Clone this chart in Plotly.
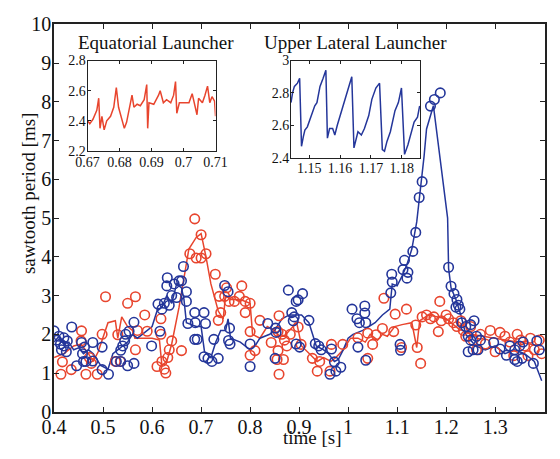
import plotly.graph_objects as go

# ---------------- data ----------------
# Equatorial launcher (red) sawtooth period samples
eq_t = [0.414, 0.417, 0.435, 0.456, 0.455, 0.465, 0.472, 0.476, 0.488, 0.498, 0.505, 0.525,
        0.530, 0.535, 0.550, 0.566, 0.566, 0.570, 0.585, 0.590, 0.618, 0.618, 0.610, 0.620,
        0.625, 0.628, 0.632, 0.635, 0.640, 0.660, 0.677, 0.687, 0.700, 0.690, 0.700, 0.710,
        0.729, 0.735, 0.740, 0.737, 0.748, 0.752, 0.757, 0.768, 0.778, 0.783, 0.790, 0.800,
        0.790, 0.800, 0.820, 0.800, 0.810, 0.843, 0.859, 0.857, 0.865, 0.870, 0.875, 0.857,
        0.855, 0.868, 0.859, 0.882, 0.898, 0.904, 0.927, 0.937, 0.942, 0.966, 0.963, 0.989,
        1.020, 1.040, 1.050, 1.040, 1.057, 1.070, 1.073, 1.096, 1.119, 1.093, 1.109, 1.138,
        1.148, 1.141, 1.187, 1.151, 1.160, 1.168, 1.175, 1.184, 1.190, 1.200, 1.205, 1.215,
        1.222, 1.230, 1.235, 1.240, 1.250, 1.255, 1.262, 1.270, 1.280, 1.290, 1.300, 1.310,
        1.320, 1.330, 1.338, 1.345, 1.352, 1.360, 1.367, 1.372, 1.380, 1.390, 1.395]
eq_v = [0.97, 1.29, 1.09, 2.09, 1.83, 0.97, 1.40, 1.25, 0.97, 2.00, 2.97, 1.30,
        1.99, 1.30, 2.80, 2.97, 1.60, 2.10, 2.50, 2.08, 2.00, 2.40, 1.17, 1.30,
        1.10, 1.00, 1.40, 1.60, 1.83, 1.58, 4.08, 4.98, 4.57, 3.97, 3.97, 4.08,
        3.55, 2.36, 2.56, 2.98, 2.98, 3.20, 2.85, 2.85, 2.98, 3.25, 2.85, 2.80,
        2.56, 2.07, 2.36, 1.46, 1.58, 1.79, 2.48, 2.07, 2.00, 1.85, 1.70, 1.58,
        1.35, 1.35, 0.97, 2.00, 2.19, 1.74, 1.38, 1.05, 1.30, 1.74, 1.05, 1.74,
        1.91, 2.03, 1.74, 1.38, 1.99, 2.15, 2.93, 2.52, 2.65, 2.07, 1.66, 2.24,
        1.25, 1.66, 2.85, 2.45, 2.50, 2.40, 2.45, 2.07, 2.35, 2.50, 2.40, 2.30,
        2.20, 2.35, 2.10, 1.95, 2.20, 1.85, 1.60, 2.00, 1.75, 2.10, 1.55, 2.05,
        1.95, 1.80, 1.45, 2.00, 1.85, 1.70, 1.45, 1.90, 1.60, 1.85, 1.50]

# Equatorial launcher smoothed trace
eq_line_t = [0.400, 0.420, 0.440, 0.455, 0.470, 0.480, 0.490, 0.500, 0.510, 0.525, 0.530, 0.538,
             0.550, 0.560, 0.565, 0.580, 0.600, 0.615, 0.620, 0.630, 0.640, 0.655, 0.665, 0.675,
             0.690, 0.700, 0.710, 0.720, 0.735, 0.745, 0.750, 0.760, 0.780, 0.800, 0.805, 0.820,
             0.835, 0.850, 0.860, 0.870, 0.880, 0.895, 0.905, 0.920, 0.937, 0.950, 0.965, 0.975,
             0.990, 1.005, 1.020, 1.035, 1.045, 1.060, 1.070, 1.080, 1.095, 1.110, 1.130, 1.140,
             1.146, 1.164, 1.180, 1.200, 1.225, 1.250, 1.275, 1.300, 1.325, 1.350, 1.375, 1.395]
eq_line_v = [1.40, 1.50, 1.70, 1.75, 1.50, 1.30, 1.55, 1.90, 2.30, 2.35, 1.90, 2.45,
             2.20, 2.10, 1.90, 1.90, 1.90, 1.85, 1.20, 1.30, 1.75, 2.70, 3.50, 4.20,
             4.50, 4.60, 4.00, 3.30, 2.60, 2.40, 3.00, 2.90, 2.90, 2.80, 2.00, 1.90,
             2.20, 2.10, 1.95, 1.95, 2.10, 2.30, 1.70, 1.50, 1.30, 1.40, 1.30, 1.40,
             1.60, 1.90, 1.90, 1.80, 2.00, 1.85, 2.00, 1.95, 2.20, 2.25, 2.30, 1.66,
             2.35, 2.50, 2.45, 2.40, 2.15, 2.00, 1.95, 1.90, 1.85, 1.80, 1.75, 1.70]

# Upper lateral launcher (blue) sawtooth period samples
ul_t = [0.400, 0.405, 0.410, 0.413, 0.415, 0.420, 0.420, 0.425, 0.427, 0.436, 0.446, 0.456,
        0.462, 0.458, 0.460, 0.465, 0.479, 0.479, 0.498, 0.498, 0.511, 0.527, 0.536, 0.536,
        0.540, 0.544, 0.546, 0.553, 0.563, 0.550, 0.563, 0.599, 0.612, 0.616, 0.620, 0.625,
        0.630, 0.631, 0.635, 0.640, 0.645, 0.655, 0.660, 0.664, 0.650, 0.670, 0.670, 0.673,
        0.687, 0.688, 0.706, 0.709, 0.687, 0.692, 0.706, 0.722, 0.735, 0.714, 0.726, 0.748,
        0.755, 0.758, 0.756, 0.759, 0.800, 0.800, 0.836, 0.852, 0.853, 0.851, 0.878, 0.894,
        0.885, 0.894, 0.898, 0.907, 0.888, 0.890, 0.920, 0.933, 0.940, 0.945, 0.901, 0.966,
        0.972, 0.963, 0.975, 0.985, 1.008, 1.018, 1.023, 1.034, 1.034, 1.036, 1.020, 1.036,
        1.089, 1.090, 1.087, 1.106, 1.107, 1.112, 1.115, 1.120, 1.122, 1.132, 1.138, 1.145,
        1.151, 1.168, 1.176, 1.188, 1.205, 1.210, 1.216, 1.222, 1.225, 1.228, 1.220, 1.232,
        1.240, 1.250, 1.257, 1.245, 1.250, 1.262, 1.270, 1.245, 1.255, 1.265, 1.297, 1.310,
        1.323, 1.330, 1.340, 1.350, 1.357, 1.340, 1.345, 1.355, 1.378, 1.385, 1.390]
ul_v = [2.09, 1.85, 1.95, 1.75, 1.60, 1.91, 1.70, 1.55, 1.83, 2.19, 1.19, 1.79,
        1.67, 1.50, 1.30, 1.30, 1.79, 1.31, 1.67, 1.09, 0.97, 1.30, 1.30, 1.59,
        1.70, 1.83, 2.00, 2.08, 2.31, 1.19, 1.25, 1.70, 2.78, 2.08, 2.65, 2.80,
        3.25, 3.46, 2.75, 3.00, 3.30, 3.38, 3.38, 3.75, 2.95, 3.10, 2.85, 2.28,
        2.56, 2.30, 2.56, 2.28, 1.87, 1.87, 1.42, 1.30, 1.38, 1.38, 1.87, 3.26,
        3.10, 2.16, 1.84, 1.75, 1.75, 1.17, 2.28, 2.16, 2.05, 1.38, 3.14, 2.85,
        2.56, 1.75, 2.89, 3.05, 2.35, 2.45, 2.36, 1.76, 1.70, 1.60, 1.67, 1.62,
        1.29, 0.97, 1.05, 1.15, 2.65, 2.40, 2.30, 2.73, 2.55, 2.30, 1.67, 1.33,
        3.55, 3.35, 3.07, 1.74, 1.59, 3.67, 3.91, 3.45, 3.60, 4.14, 4.63, 5.53,
        5.94, 7.89, 8.06, 8.23, 3.73, 3.24, 3.05, 2.90, 2.75, 2.65, 2.70, 2.30,
        2.20, 2.25, 2.35, 1.95, 1.85, 1.95, 1.85, 1.55, 1.60, 1.60, 1.79, 1.62,
        1.46, 1.70, 1.60, 1.70, 1.80, 1.35, 1.30, 1.38, 1.25, 1.83, 1.60]

# Upper lateral launcher smoothed trace
ul_line_t = [0.400, 0.410, 0.420, 0.430, 0.440, 0.450, 0.460, 0.470, 0.480, 0.495, 0.510, 0.520,
             0.530, 0.540, 0.550, 0.560, 0.570, 0.580, 0.600, 0.610, 0.620, 0.630, 0.640, 0.650,
             0.660, 0.665, 0.670, 0.680, 0.690, 0.700, 0.707, 0.720, 0.730, 0.740, 0.750, 0.755,
             0.760, 0.780, 0.800, 0.810, 0.820, 0.840, 0.850, 0.865, 0.880, 0.890, 0.905, 0.920,
             0.935, 0.950, 0.960, 0.972, 0.980, 0.990, 1.000, 1.010, 1.030, 1.055, 1.070, 1.085,
             1.090, 1.100, 1.110, 1.120, 1.130, 1.140, 1.150, 1.155, 1.160, 1.174, 1.203, 1.205,
             1.210, 1.220, 1.230, 1.240, 1.260, 1.280, 1.300, 1.320, 1.340, 1.360, 1.380, 1.395]
ul_line_v = [1.80, 1.95, 1.75, 1.80, 1.60, 1.65, 1.50, 1.60, 1.50, 1.20, 1.10, 1.50,
             1.60, 1.70, 1.80, 2.00, 1.90, 2.00, 2.20, 2.60, 2.70, 3.00, 2.80, 3.30,
             3.20, 2.90, 2.30, 2.25, 2.20, 2.20, 1.55, 1.40, 1.80, 2.10, 2.10, 2.40,
             1.90, 1.80, 1.60, 1.70, 1.90, 2.00, 2.10, 2.40, 2.50, 2.50, 2.50, 2.30,
             1.70, 1.60, 1.50, 1.30, 1.35, 1.60, 1.90, 2.00, 2.10, 2.30, 2.50, 2.65,
             3.30, 3.25, 3.50, 3.80, 4.20, 4.90, 6.00, 6.60, 7.30, 7.90, 5.00, 3.70,
             3.20, 2.90, 2.50, 2.00, 1.70, 1.60, 1.70, 1.50, 1.60, 1.50, 1.30, 0.80]

# Inset: Equatorial launcher zoom
eq_in_t = [0.6700, 0.6707, 0.6717, 0.6729, 0.6735, 0.6739, 0.6745, 0.6752, 0.6760, 0.6772,
           0.6782, 0.6790, 0.6797, 0.6805, 0.6815, 0.6822, 0.6832, 0.6839, 0.6845, 0.6855,
           0.6865, 0.6877, 0.6885, 0.6888, 0.6892, 0.6907, 0.6922, 0.6927, 0.6932, 0.6937,
           0.6947, 0.6960, 0.6969, 0.6975, 0.6979, 0.6987, 0.7002, 0.7017, 0.7027, 0.7042,
           0.7047, 0.7059, 0.7067, 0.7075, 0.7082, 0.7089, 0.7097, 0.7100]
eq_in_v = [2.40, 2.38, 2.41, 2.47, 2.55, 2.35, 2.43, 2.34, 2.40, 2.43,
           2.49, 2.62, 2.49, 2.43, 2.35, 2.39, 2.49, 2.57, 2.49, 2.51,
           2.50, 2.54, 2.64, 2.35, 2.52, 2.51, 2.57, 2.60, 2.56, 2.52,
           2.54, 2.52, 2.57, 2.66, 2.45, 2.52, 2.52, 2.52, 2.58, 2.44,
           2.55, 2.52, 2.57, 2.63, 2.52, 2.56, 2.53, 2.43]

# Inset: Upper lateral launcher zoom
ul_in_t = [1.1441, 1.1446, 1.1452, 1.1462, 1.1469, 1.1475, 1.1481, 1.1486, 1.1494, 1.1501,
           1.1509, 1.1518, 1.1525, 1.1535, 1.1545, 1.1554, 1.1559, 1.1566, 1.1576, 1.1583,
           1.1591, 1.1604, 1.1614, 1.1624, 1.1638, 1.1645, 1.1651, 1.1658, 1.1669, 1.1679,
           1.1693, 1.1703, 1.1716, 1.1728, 1.1737, 1.1744, 1.1752, 1.1763, 1.1778, 1.1789,
           1.1799, 1.1809, 1.1820, 1.1830, 1.1840, 1.1851, 1.1858]
ul_in_v = [2.74, 2.80, 2.84, 2.86, 2.89, 2.47, 2.53, 2.57, 2.59, 2.63,
           2.68, 2.72, 2.74, 2.84, 2.89, 2.94, 2.52, 2.58, 2.58, 2.54,
           2.60, 2.68, 2.75, 2.81, 2.90, 2.46, 2.50, 2.56, 2.54, 2.58,
           2.66, 2.76, 2.83, 2.86, 2.45, 2.44, 2.50, 2.56, 2.69, 2.74,
           2.83, 2.42, 2.48, 2.56, 2.62, 2.65, 2.72]

main_xticks = [0.4, 0.5, 0.6, 0.7, 0.8, 0.9, 1.0, 1.1, 1.2, 1.3]
main_xlabels = ["0.4", "0.5", "0.6", "0.7", "0.8", "0.9", "1", "1.1", "1.2", "1.3"]
main_yticks = [0, 1, 2, 3, 4, 5, 6, 7, 8, 9, 10]
eq_in_xticks = [0.67, 0.68, 0.69, 0.70, 0.71]
eq_in_xlabels = ["0.67", "0.68", "0.69", "0.7", "0.71"]
eq_in_yticks = [2.2, 2.4, 2.6, 2.8]
ul_in_xticks = [1.15, 1.16, 1.17, 1.18]
ul_in_yticks = [2.4, 2.6, 2.8, 3.0]
ul_in_ylabels = ["2.4", "2.6", "2.8", "3"]

# ---------------- styling ----------------
RED = "#e8452e"
BLUE = "#24369a"
FONT = "Liberation Serif"
W, H = 560, 459

def px_x(p):
    return p / W

def px_y(p):
    return 1 - p / H

fig = go.Figure()

fig.add_trace(go.Scatter(x=eq_line_t, y=eq_line_v, mode="lines",
                         line=dict(color=RED, width=1.5), xaxis="x", yaxis="y", showlegend=False))
fig.add_trace(go.Scatter(x=ul_line_t, y=ul_line_v, mode="lines",
                         line=dict(color=BLUE, width=1.5), xaxis="x", yaxis="y", showlegend=False))
fig.add_trace(go.Scatter(x=eq_t, y=eq_v, mode="markers",
                         marker=dict(symbol="circle-open", size=9.5, color=RED, line=dict(width=1.6)),
                         xaxis="x", yaxis="y", showlegend=False))
fig.add_trace(go.Scatter(x=ul_t, y=ul_v, mode="markers",
                         marker=dict(symbol="circle-open", size=9.5, color=BLUE, line=dict(width=1.6)),
                         xaxis="x", yaxis="y", showlegend=False))

fig.add_trace(go.Scatter(x=eq_in_t, y=eq_in_v, mode="lines",
                         line=dict(color=RED, width=1.5), xaxis="x2", yaxis="y2", showlegend=False))
fig.add_trace(go.Scatter(x=ul_in_t, y=ul_in_v, mode="lines",
                         line=dict(color=BLUE, width=1.5), xaxis="x3", yaxis="y3", showlegend=False))

main_ax = dict(showline=True, linecolor="#222", linewidth=1.5, mirror="ticks",
               ticks="inside", ticklen=5, tickcolor="#222", tickwidth=1,
               showgrid=False, zeroline=False,
               tickfont=dict(family=FONT, size=20, color="#111"))
inset_ax = dict(showline=True, linecolor="#222", linewidth=1, mirror="ticks",
                ticks="inside", ticklen=3, tickcolor="#222", tickwidth=1,
                showgrid=False, zeroline=False,
                tickfont=dict(family=FONT, size=14, color="#111"))

fig.update_layout(
    width=W, height=H,
    margin=dict(l=0, r=0, t=0, b=0),
    paper_bgcolor="white", plot_bgcolor="white",
    xaxis=dict(**main_ax, domain=[px_x(43), px_x(557)], range=[0.4, 1.402],
               tickvals=main_xticks, ticktext=main_xlabels, anchor="y", ticklabelstandoff=-4),
    yaxis=dict(**main_ax, domain=[px_y(421), px_y(14)], range=[0, 10],
               tickvals=main_yticks, anchor="x", ticklabelstandoff=-3),
    xaxis2=dict(**inset_ax, domain=[px_x(78), px_x(212)], range=[0.67, 0.71],
                tickvals=eq_in_xticks, ticktext=eq_in_xlabels, anchor="y2", ticklabelstandoff=-2),
    yaxis2=dict(**inset_ax, domain=[px_y(147), px_y(52)], range=[2.2, 2.8],
                tickvals=eq_in_yticks, anchor="x2", ticklabelstandoff=-2),
    xaxis3=dict(**inset_ax, domain=[px_x(291), px_x(426)], range=[1.1441, 1.1859],
                tickvals=ul_in_xticks, anchor="y3", ticklabelstandoff=-2),
    yaxis3=dict(**inset_ax, domain=[px_y(154), px_y(52)], range=[2.4, 3.0],
                tickvals=ul_in_yticks, ticktext=ul_in_ylabels, anchor="x3", ticklabelstandoff=-2),
    annotations=[
        dict(text="time [s]", x=px_x(313), y=px_y(448), xref="paper", yref="paper",
             showarrow=False, font=dict(family=FONT, size=19, color="#111"),
             xanchor="center", yanchor="middle"),
        dict(text="sawtooth period [ms]", x=px_x(17), y=px_y(192), xref="paper", yref="paper",
             showarrow=False, textangle=-90, font=dict(family=FONT, size=19, color="#111"),
             xanchor="center", yanchor="middle"),
        dict(text="Equatorial Launcher", x=px_x(150), y=px_y(33), xref="paper", yref="paper",
             showarrow=False, font=dict(family=FONT, size=19, color="#111"),
             xanchor="center", yanchor="middle"),
        dict(text="Upper Lateral Launcher", x=px_x(359), y=px_y(33), xref="paper", yref="paper",
             showarrow=False, font=dict(family=FONT, size=19, color="#111"),
             xanchor="center", yanchor="middle"),
    ],
)

fig.write_html("out.html")
